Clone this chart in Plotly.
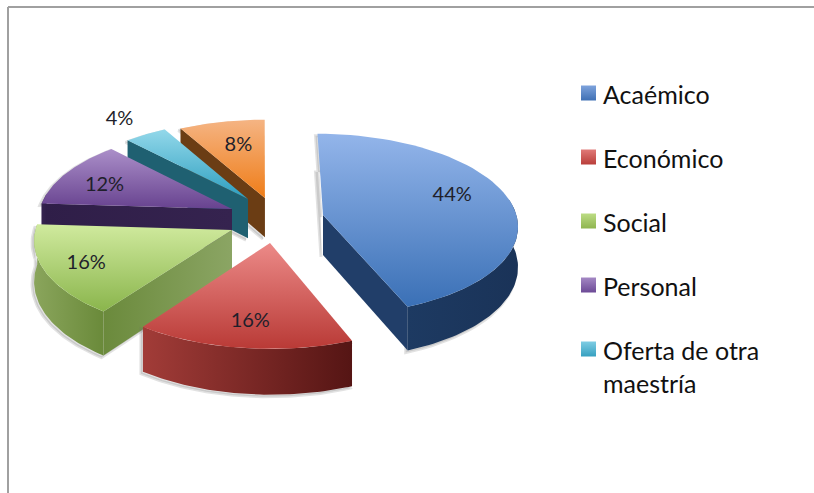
import numpy as np
import plotly.graph_objects as go

# ---- data ----
categories = ["Acaémico", "Económico", "Social", "Personal", "Oferta de otra<br>maestría", "Otros"]
values = [44, 16, 16, 12, 4, 8]
labels = ["44%", "16%", "16%", "12%", "4%", "8%"]

# ---- styling ----
top_colors = [("#93b5ea", "#3a70b6"), ("#ec8a88", "#b93a36"), ("#d0ea9e", "#8ab54c"),
              ("#ab8fc9", "#67428f"), ("#93d8ea", "#2c9ebf"), ("#f5b483", "#ef7d18")]
arc_colors = [("#1d3a62", "#1a3358"), ("#a23c38", "#551514"), ("#8aa55c", "#6a8a3a"),
              ("#35234f", "#2f1e48"), ("#1f5f70", "#1c5565"), ("#6f4018", "#643814")]
face_colors = [("#213e69", "#213e69"), ("#8a2c2a", "#8a2c2a"), ("#6b8a3c", "#8ba564"),
               ("#2f1e48", "#35234f"), ("#1f6071", "#1f6071"), ("#6b3d14", "#6b3d14")]
legend_top = ["#7ea3dc", "#e07a78", "#bcdc84", "#a488c4", "#7fcde4"]
legend_bottom = ["#3f70b4", "#b93e3a", "#8fb54f", "#6c4a96", "#36a0c0"]

# explosion of every slice in the pie plane (X in px, Z in radii)
pull_x = [61.2, 7.8, -29.6, -30.3, -14.3, 3.0]
pull_z = [-0.033, 0.27, 0.131, -0.101, -0.2155, -0.227]
label_r = [0.73, 0.754, 0.786, 0.748, 1.28, 0.69]
label_dtheta = [-8, 0, 0, -2, 0, 2]

CX, CY, RX, RY, K, DEPTH = 262, 218, 194, 90, 0.1, 40
LABEL_DY = 2
FONT = "Lato"


def project(px, pz, r, theta_deg, depth=0.0):
    t = np.radians(theta_deg)
    X = px + RX * r * np.sin(t)
    Z = pz - r * np.cos(t)
    p = 1 / (1 - K * Z)
    return CX + X * p, CY + RY * Z * p + depth * p


def poly(x, y, c0=None, c1=None, kind="horizontal", **kw):
    args = dict(x=np.round(np.asarray(x, float), 2), y=np.round(np.asarray(y, float), 2),
                mode="lines", fill="toself", hoverinfo="skip", showlegend=False)
    if c0 is not None:
        args["fillgradient"] = dict(type=kind, colorscale=[[0, c0], [1, c1]])
        args["line"] = dict(width=0, color=c0)
    args.update(kw)
    return go.Scatter(**args)


fig = go.Figure()

edges = np.concatenate([[0], np.cumsum(values)]) * 3.6
order = [5, 4, 3, 2, 1, 0]  # back to front
for i in order:
    a0, a1 = edges[i], edges[i + 1]
    th = np.linspace(a0, a1, 60)
    px, pz = pull_x[i], pull_z[i]
    ax, ay = project(px, pz, 0, 0)
    ax2, ay2 = project(px, pz, 0, 0, DEPTH)
    tx, ty = project(px, pz, 1, th)
    bx, by = project(px, pz, 1, th, DEPTH)

    # soft shadow round the solid body
    sx = np.concatenate([[ax], tx, bx[::-1], [ax2]])
    sy = np.concatenate([[ay], ty, by[::-1], [ay2]])
    fig.add_trace(poly(sx - 2, sy + 2, line=dict(color="rgba(110,110,110,0.2)", width=3),
                       fillcolor="rgba(110,110,110,0.2)"))

    # radial side faces that look towards the viewer
    for j, normal in ((0, a0 - 90), (-1, a1 + 90)):
        if -np.cos(np.radians(normal)) > 1e-6:
            fig.add_trace(poly([ax, tx[j], bx[j], ax2, ax], [ay, ty[j], by[j], ay2, ay],
                               face_colors[i][0], face_colors[i][1]))
    # outer rim: only the part of the arc on the viewer's side
    r0, r1 = max(a0, 80), min(a1, 280)
    if r1 > r0:
        rim = np.linspace(r0, r1, 60)
        rtx, rty = project(px, pz, 1, rim)
        rbx, rby = project(px, pz, 1, rim, DEPTH)
        fig.add_trace(poly(np.concatenate([rtx, rbx[::-1]]), np.concatenate([rty, rby[::-1]]),
                           arc_colors[i][0], arc_colors[i][1]))
    # top face (the y axis is reversed, so the gradient runs bottom colour first)
    fig.add_trace(poly(np.concatenate([[ax], tx, [ax]]), np.concatenate([[ay], ty, [ay]]),
                       top_colors[i][1], top_colors[i][0], kind="vertical"))

# percentage labels
lx, ly = [], []
for i in range(len(values)):
    mid = (edges[i] + edges[i + 1]) / 2 + label_dtheta[i]
    x, y = project(pull_x[i], pull_z[i], label_r[i], mid)
    lx.append(float(x))
    ly.append(float(y) + LABEL_DY)
fig.add_trace(go.Scatter(x=lx, y=ly, mode="text", text=labels, hoverinfo="skip", showlegend=False,
                         textfont=dict(family=FONT, size=20, color="#1f1f2b")))

# legend (the orange slice has no entry in the original)
LEG_X, LEG_TXT_X, LEG_Y0, LEG_DY = 588.5, 601, 93, 64
n = len(legend_top)
leg_y = [LEG_Y0 + k * LEG_DY for k in range(n)]
fig.add_trace(go.Scatter(x=[LEG_X] * n, y=leg_y, mode="markers", hoverinfo="skip", showlegend=False,
                         marker=dict(symbol="square", size=15, color=legend_top,
                                     gradient=dict(type="vertical", color=legend_bottom),
                                     line=dict(width=0))))
annotations = [dict(x=LEG_TXT_X, y=y - 16, xref="x", yref="y", text=c, showarrow=False,
                    xanchor="left", yanchor="top", align="left",
                    font=dict(family=FONT, size=25, color="#111111"))
               for c, y in zip(categories[:n], leg_y)]

# page frame
shapes = [
    dict(type="line", x0=8, x1=814, y0=7, y1=7, xref="x", yref="y",
         line=dict(color="#a0a0a0", width=2)),
    dict(type="line", x0=8, x1=8, y0=7, y1=493, xref="x", yref="y",
         line=dict(color="#a0a0a0", width=2)),
]

fig.update_layout(
    width=814, height=493, margin=dict(l=0, r=0, t=0, b=0),
    paper_bgcolor="white", plot_bgcolor="white", showlegend=False,
    xaxis=dict(range=[0, 814], visible=False, fixedrange=True),
    yaxis=dict(range=[493, 0], visible=False, fixedrange=True),
    annotations=annotations, shapes=shapes,
)
fig.write_html("out.html", config=dict(displayModeBar=False),
               post_script="document.body.style.margin='0';")
